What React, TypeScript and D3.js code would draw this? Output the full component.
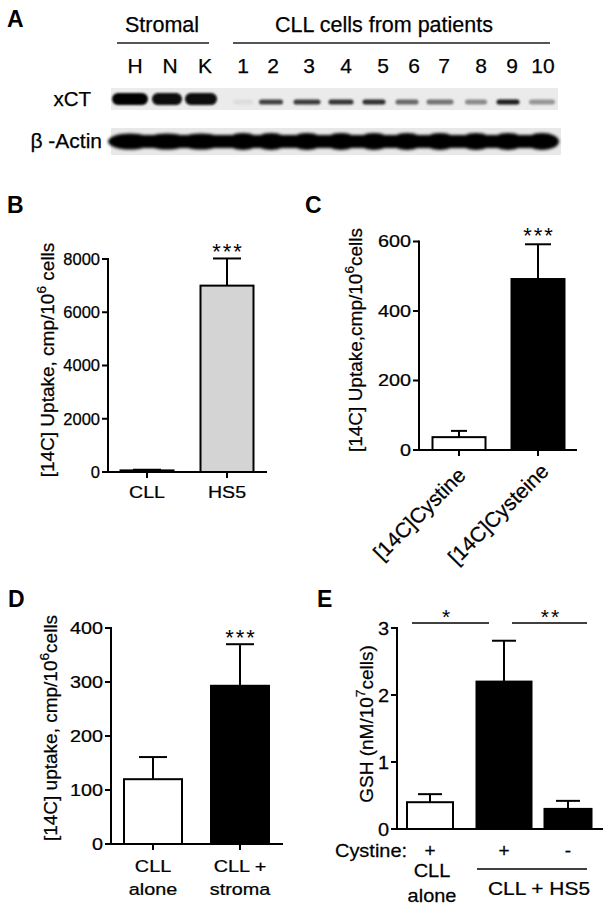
import React from 'react';
import * as d3 from 'd3';

const FONT = "'Liberation Sans', Arial, Helvetica, sans-serif";

// ---------- Panel A data ----------
const laneLabels = ['H', 'N', 'K', '1', '2', '3', '4', '5', '6', '7', '8', '9', '10'];
const xctIntensity = [1, 0.97, 0.97, 0.03, 0.72, 0.74, 0.78, 0.8, 0.55, 0.5, 0.4, 0.88, 0.35];
const actinIntensity = [1, 1, 1, 1, 1, 1, 1, 1, 1, 1, 1, 1, 1];
const groupLabels = ['Stromal', 'CLL cells from patients'];
const blotRows = ['xCT', 'β -Actin'];

// ---------- Panel B data ----------
const catsB = ['CLL', 'HS5'];
const meanB = [60, 7000];
const errB = [25, 1020];
const ticksB = [0, 2000, 4000, 6000, 8000];
const sigB = ['', '***'];

// ---------- Panel C data ----------
const catsC = ['[14C]Cystine', '[14C]Cysteine'];
const meanC = [37, 492];
const errC = [18, 100];
const ticksC = [0, 200, 400, 600];
const sigC = ['', '***'];

// ---------- Panel D data ----------
const catsD = [['CLL', 'alone'], ['CLL +', 'stroma']];
const meanD = [120, 293];
const errD = [41, 77];
const ticksD = [0, 100, 200, 300, 400];
const sigD = ['', '***'];

// ---------- Panel E data ----------
const cystineE = ['+', '+', '-'];
const meanE = [0.4, 2.2, 0.3];
const errE = [0.12, 0.61, 0.12];
const ticksE = [0, 1, 2, 3];
const sigE = ['*', '**'];

// ---------- layout constants ----------
const LANE_LABEL_X = [135, 170, 205, 243, 273, 309, 346, 383, 414, 444, 481, 512, 543];
const LANE_BAND_X = [130, 167, 201, 243, 271, 307, 341, 374, 407, 440, 476, 508, 542];
const LANE_BAND_W = [36, 30, 32, 20, 24, 27, 25, 23, 23, 27, 22, 23, 26];

type TP = { x: number; y: number; size: number; anchor?: string; sx?: number; weight?: any; children: any; ls?: number };
const Txt = ({ x, y, size, anchor = 'middle', sx = 1, weight = 'normal', children, ls }: TP) => (
  <text
    transform={`translate(${x},${y}) scale(${sx},1)`}
    fontSize={size}
    fontFamily={FONT}
    textAnchor={anchor}
    fontWeight={weight}
    letterSpacing={ls}
    fill="#000"
    stroke="#000"
    strokeWidth={weight === 'bold' ? 0 : 0.25}
  >
    {children}
  </text>
);

const Stars = ({ x, y, size, children }: any) => (
  <text x={x} y={y} fontSize={size} fontFamily={FONT} textAnchor="middle" letterSpacing={2} fill="#000">
    {children}
  </text>
);

const YLabel = ({ x, y, size, pre, sup, post }: any) => (
  <text transform={`translate(${x},${y}) rotate(-90)`} fontSize={size} fontFamily={FONT} textAnchor="middle" fill="#000" stroke="#000" strokeWidth={0.25}>
    {pre}
    <tspan dy={-size * 0.4} fontSize={size * 0.72}>{sup}</tspan>
    <tspan dy={size * 0.4}>{post}</tspan>
  </text>
);

function ErrBar({ cx, yTop, yBar, half }: any) {
  return (
    <g stroke="#000" strokeWidth={2}>
      <line x1={cx} x2={cx} y1={yBar} y2={yTop} />
      <line x1={cx - half} x2={cx + half} y1={yTop} y2={yTop} />
    </g>
  );
}

function YAxis({ x, y, ticks, size, sx, tickLen = 6 }: any) {
  const r = y.range();
  return (
    <g>
      <line x1={x} x2={x} y1={r[0] + 1} y2={r[1] - 1} stroke="#000" strokeWidth={2} />
      {ticks.map((t: number) => (
        <g key={t}>
          <line x1={x - tickLen} x2={x} y1={y(t)} y2={y(t)} stroke="#000" strokeWidth={2} />
          <Txt x={x - tickLen - 2} y={y(t) + size * 0.36} size={size} anchor="end" sx={sx}>
            {String(t)}
          </Txt>
        </g>
      ))}
    </g>
  );
}

function PanelA() {
  const gray = (v: number) => d3.interpolateRgb('#e4e4e4', '#000')(v);
  return (
    <g>
      <defs>
        <filter id="blur1" x="-20%" y="-50%" width="140%" height="200%">
          <feGaussianBlur stdDeviation="1.1" />
        </filter>
        <filter id="blur2" x="-5%" y="-50%" width="110%" height="200%">
          <feGaussianBlur stdDeviation="1.4" />
        </filter>
      </defs>
      <Txt x={7} y={27} size={23} anchor="start" weight="bold">A</Txt>
      <Txt x={162} y={32} size={21.5}>{groupLabels[0]}</Txt>
      <line x1={117} x2={209} y1={43} y2={43} stroke="#555" strokeWidth={2} />
      <Txt x={384} y={32} size={21.5}>{groupLabels[1]}</Txt>
      <line x1={233} x2={550} y1={43} y2={43} stroke="#555" strokeWidth={2} />
      {laneLabels.map((l, i) => (
        <Txt key={l} x={LANE_LABEL_X[i]} y={73} size={21}>{l}</Txt>
      ))}
      <Txt x={91} y={106} size={20.5} anchor="end">{blotRows[0]}</Txt>
      <Txt x={102} y={148} size={21} anchor="end">{blotRows[1]}</Txt>
      {/* xCT strip */}
      <rect x={111} y={88} width={447} height={22} fill="#ebebeb" />
      <g filter="url(#blur1)">
        {laneLabels.map((l, i) => {
          const big = i < 3;
          const h = big ? 12 : 5;
          const cy = big ? 99 : 102;
          return (
            <rect key={l} x={LANE_BAND_X[i] - LANE_BAND_W[i] / 2} y={cy - h / 2} width={LANE_BAND_W[i]} height={h}
              rx={h / 2} fill={gray(xctIntensity[i])} />
          );
        })}
      </g>
      {/* actin strip */}
      <rect x={111} y={128} width={450} height={27} fill="#e8e8e8" />
      <g filter="url(#blur2)">
        <rect x={113} y={135} width={443} height={13} rx={6} fill="#000" />
        {laneLabels.map((l, i) => (
          <ellipse key={l} cx={LANE_BAND_X[i]} cy={141.5} rx={(i < 3 ? 22 : 17)} ry={i < 3 ? 8 : 8.5}
            fill={gray(actinIntensity[i])} />
        ))}
      </g>
    </g>
  );
}

function PanelB() {
  const y = d3.scaleLinear().domain([0, 8000]).range([472, 259]);
  const x = d3.scalePoint().domain(catsB).range([147, 227]);
  const bw = 53;
  return (
    <g>
      <Txt x={7} y={213} size={23} anchor="start" weight="bold">B</Txt>
      <YLabel x={54} y={360} size={19} pre="[14C] Uptake, cmp/10" sup="6" post=" cells" />
      {catsB.map((c, i) => {
        const cx = x(c)!;
        const yt = y(meanB[i]);
        return (
          <g key={c}>
            <ErrBar cx={cx} yTop={y(meanB[i] + errB[i])} yBar={yt} half={14} />
            <rect x={cx - bw / 2} y={yt} width={bw} height={y(0) - yt} fill="#d4d4d4" stroke="#000" strokeWidth={2} />
            <line x1={cx} x2={cx} y1={472} y2={478} stroke="#000" strokeWidth={2} />
            <Txt x={cx} y={498} size={17} sx={1.15}>{c}</Txt>
            {sigB[i] && <Stars x={cx + 1} y={258.5} size={22}>{sigB[i]}</Stars>}
          </g>
        );
      })}
      <line x1={107} x2={267} y1={472} y2={472} stroke="#000" strokeWidth={2} />
      <YAxis x={108} y={y} ticks={ticksB} size={16.5} sx={1} />
    </g>
  );
}

function PanelC() {
  const y = d3.scaleLinear().domain([0, 600]).range([450, 241.5]);
  const x = d3.scalePoint().domain(catsC).range([459, 538]);
  const bw = 53;
  const fills = ['#fff', '#000'];
  return (
    <g>
      <Txt x={305} y={213} size={23} anchor="start" weight="bold">C</Txt>
      <YLabel x={362} y={340} size={19} pre="[14C] Uptake,cmp/10" sup="6" post="cells" />
      {catsC.map((c, i) => {
        const cx = x(c)!;
        const yt = y(meanC[i]);
        return (
          <g key={c}>
            <ErrBar cx={cx} yTop={y(meanC[i] + errC[i])} yBar={yt} half={i === 0 ? 8 : 13} />
            <rect x={cx - bw / 2} y={yt} width={bw} height={y(0) - yt} fill={fills[i]} stroke="#000" strokeWidth={2} />
            <line x1={cx} x2={cx} y1={450} y2={456} stroke="#000" strokeWidth={2} />
            <text transform={`translate(${cx - 34.5},${519}) rotate(-45)`} fontSize={21} fontFamily={FONT} textAnchor="middle" fill="#000" stroke="#000" strokeWidth={0.25}>{c}</text>
            {sigC[i] && <Stars x={cx + 1} y={242.5} size={22}>{sigC[i]}</Stars>}
          </g>
        );
      })}
      <line x1={418} x2={577} y1={450} y2={450} stroke="#000" strokeWidth={2} />
      <YAxis x={419} y={y} ticks={ticksC} size={16.5} sx={1.2} />
    </g>
  );
}

function PanelD() {
  const y = d3.scaleLinear().domain([0, 400]).range([844, 628]);
  const x = d3.scalePoint().domain(catsD.map(d => d.join(' '))).range([153, 240]);
  const bw = 58;
  const fills = ['#fff', '#000'];
  return (
    <g>
      <Txt x={8} y={607} size={23} anchor="start" weight="bold">D</Txt>
      <YLabel x={57} y={728} size={19} pre="[14C] uptake, cmp/10" sup="6" post="cells" />
      {catsD.map((c, i) => {
        const cx = x(c.join(' '))!;
        const yt = y(meanD[i]);
        return (
          <g key={i}>
            <ErrBar cx={cx} yTop={y(meanD[i] + errD[i])} yBar={yt} half={14} />
            <rect x={cx - bw / 2} y={yt} width={bw} height={y(0) - yt} fill={fills[i]} stroke="#000" strokeWidth={2} />
            <line x1={cx} x2={cx} y1={844} y2={850} stroke="#000" strokeWidth={2} />
            <Txt x={cx} y={872} size={16.5} sx={1.2}>{c[0]}</Txt>
            <Txt x={cx} y={895} size={16.5} sx={1.2}>{c[1]}</Txt>
            {sigD[i] && <Stars x={cx + 1} y={645} size={22}>{sigD[i]}</Stars>}
          </g>
        );
      })}
      <line x1={110} x2={283} y1={844} y2={844} stroke="#000" strokeWidth={2} />
      <YAxis x={111} y={y} ticks={ticksD} size={16.5} sx={1.2} />
    </g>
  );
}

function PanelE() {
  const y = d3.scaleLinear().domain([0, 3]).range([829, 628]);
  const xs = [430, 504, 568];
  const bws = [46, 55, 47];
  const fills = ['#fff', '#000', '#000'];
  return (
    <g>
      <Txt x={317} y={607} size={23} anchor="start" weight="bold">E</Txt>
      <YLabel x={373} y={724} size={19} pre="GSH (nM/10" sup="7" post="cells)" />
      {meanE.map((m, i) => {
        const cx = xs[i];
        const yt = y(m);
        return (
          <g key={i}>
            <ErrBar cx={cx} yTop={y(m + errE[i])} yBar={yt} half={12} />
            <rect x={cx - bws[i] / 2} y={yt} width={bws[i]} height={y(0) - yt} fill={fills[i]} stroke="#000" strokeWidth={2} />
            <Txt x={cx} y={857} size={19}>{cystineE[i]}</Txt>
          </g>
        );
      })}
      <line x1={396} x2={603} y1={829} y2={829} stroke="#000" strokeWidth={2} />
      <YAxis x={397} y={y} ticks={ticksE} size={19} sx={1.05} />
      {/* significance */}
      <line x1={412} x2={489} y1={623} y2={623} stroke="#000" strokeWidth={1.5} />
      <Stars x={447} y={623.5} size={21}>{sigE[0]}</Stars>
      <line x1={512} x2={587} y1={623} y2={623} stroke="#000" strokeWidth={1.5} />
      <Stars x={551} y={623.5} size={21}>{sigE[1]}</Stars>
      <Txt x={335} y={857} size={19} anchor="start" sx={1.05}>Cystine:</Txt>
      <Txt x={432} y={877} size={19} sx={1.05}>CLL</Txt>
      <Txt x={432} y={902} size={19} sx={1.05}>alone</Txt>
      <line x1={477} x2={587} y1={869} y2={869} stroke="#000" strokeWidth={1.5} />
      <Txt x={539} y={895} size={19} sx={1.1}>CLL + HS5</Txt>
    </g>
  );
}

export default function App() {
  return (
    <svg width={612} height={913} style={{ position: 'absolute', left: 0, top: 0, background: '#fff' }}>
      <rect width={612} height={913} fill="#fff" />
      <PanelA />
      <PanelB />
      <PanelC />
      <PanelD />
      <PanelE />
    </svg>
  );
}
